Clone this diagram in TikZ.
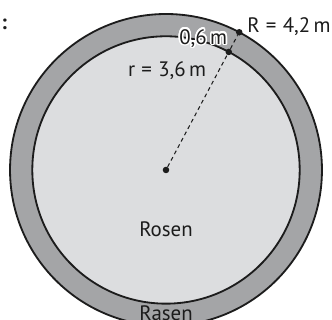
\documentclass[tikz,border=0pt]{standalone}
\usepackage{fontspec}
\setmainfont{PT Sans}
\usepackage{xcolor}
\definecolor{cring}{HTML}{A4A5A7}
\definecolor{cbed}{HTML}{DCDDDF}
\definecolor{cink}{HTML}{1C1C1C}
\usepackage{contour}
\contourlength{1.2pt}
\usepackage{tikz}
\usetikzlibrary{positioning,calc}

\begin{document}
\begin{tikzpicture}[font=\fontsize{16}{18}\selectfont, text=cink,
  rim/.style={draw=cink, line width=1.4pt},
  dot/.style={circle, fill=cink, inner sep=0pt, minimum size=5pt},
  radius line/.style={cink, line width=0.8pt, dash pattern=on 3pt off 2.5pt},
  lbl/.style={inner sep=0pt}]
  \useasboundingbox (-4.47,-4.04) rectangle (4.47,4.577);
  \coordinate (M) at (0,0);
  \draw[rim, fill=cring] (M) circle (4.2);
  \draw[rim, fill=cbed] (M) circle (3.6);
  \node[dot] (m) at (M) {};
  \node[dot] (r) at (62:3.6) {};
  \node[dot] (R) at (62:4.2) {};
  \draw[radius line] (m) -- (r);
  \draw[radius line] (r) -- (R);
  \node[lbl, anchor=base west, xshift=6pt] (lR) at (R) {R\hspace{0.3em}=\hspace{0.3em}4,2\,m};
  \node[lbl, anchor=base east, xshift=-1pt, yshift=6pt] (lw) at (r) {\contour{white}{0,6\,m}};
  \node[lbl, anchor=base east, xshift=-7pt] (lr) at ($(m)!0.79!(r)$) {r\hspace{0.3em}=\hspace{0.3em}3,6\,m};
  \node[lbl, anchor=base] (rosen) at (0,-1.78) {Rosen};
  \node[lbl, anchor=base] (rasen) at (0,-4.04) {Rasen};
  \node[lbl] (colon) at (-4.36,3.93) {\textbf{:}};
\end{tikzpicture}
\end{document}
